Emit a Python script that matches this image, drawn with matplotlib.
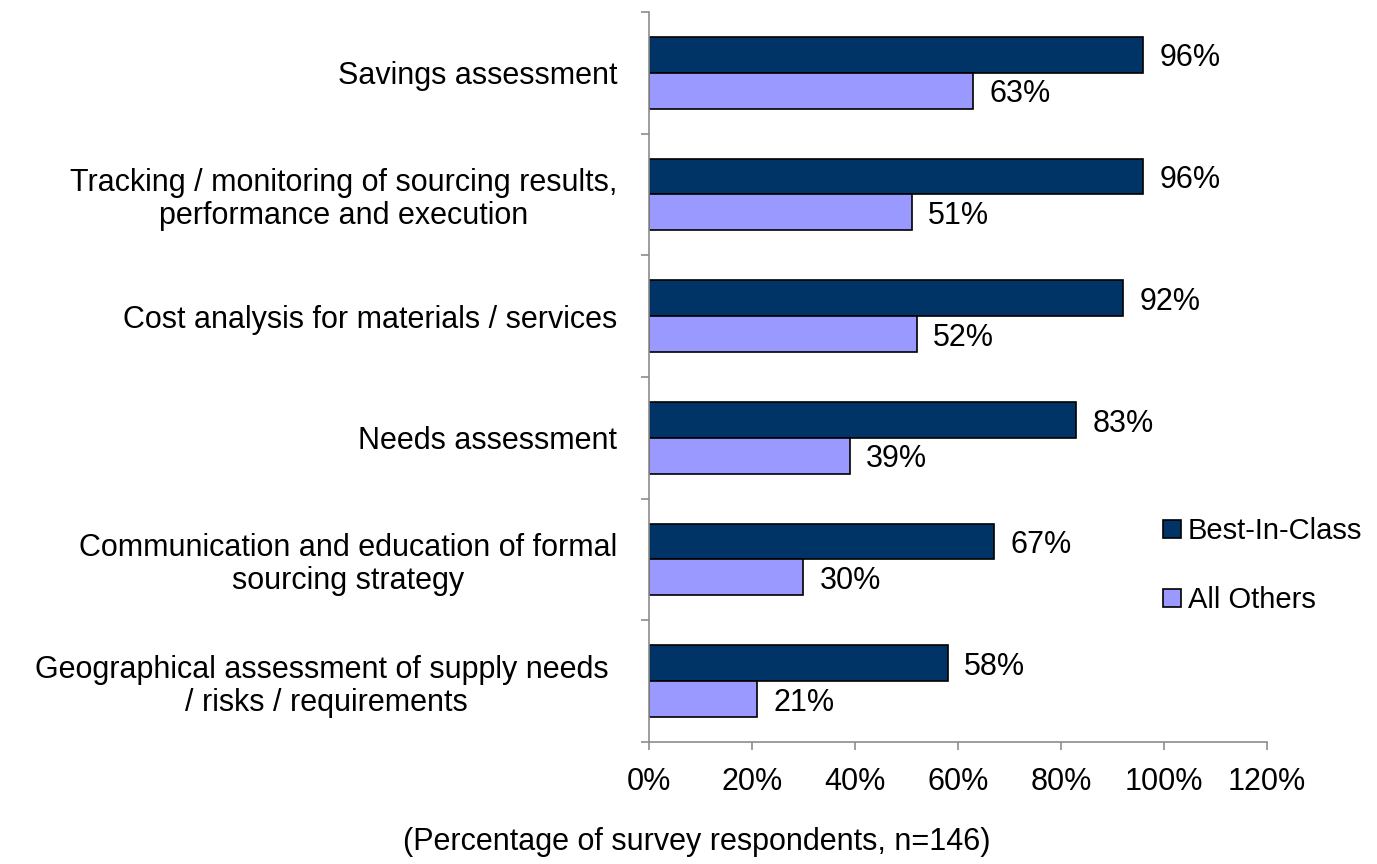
import numpy as np
import matplotlib.pyplot as plt

plt.rcParams["font.family"] = ["Liberation Sans", "DejaVu Sans"]

categories = [
    "Savings assessment",
    "Tracking / monitoring of sourcing results,\nperformance and execution",
    "Cost analysis for materials / services",
    "Needs assessment",
    "Communication and education of formal\nsourcing strategy",
    "Geographical assessment of supply needs \n/ risks / requirements",
]
best_in_class = [96, 96, 92, 83, 67, 58]
all_others = [63, 51, 52, 39, 30, 21]
series_names = ["Best-In-Class", "All Others"]
xtick_values = [0, 20, 40, 60, 80, 100, 120]

BIC_COLOR = "#003366"
AO_COLOR = "#9999FF"
AXIS_COLOR = "#8C8C8C"
FS = 22

fig = plt.figure(figsize=(13.77, 8.64), dpi=100)
ax = fig.add_axes([0.4713, 0.1412, 0.4488, 0.845])

y = np.arange(len(categories))
h = 0.295
bars_bic = ax.barh(y - h / 2, best_in_class, height=h, color=BIC_COLOR,
                   edgecolor="black", linewidth=1.2, label=series_names[0])
bars_ao = ax.barh(y + h / 2, all_others, height=h, color=AO_COLOR,
                  edgecolor="black", linewidth=1.2, label=series_names[1])

for bars, vals in [(bars_bic, best_in_class), (bars_ao, all_others)]:
    for b, v in zip(bars, vals):
        ax.text(v + 3.2, b.get_y() + b.get_height() / 2 + 0.03, f"{v}%",
                va="center", ha="left", fontsize=FS)

ax.set_xlim(0, 120)
ax.set_ylim(len(categories) - 0.5, -0.5)
ax.set_xticks(xtick_values)
ax.set_xticklabels([f"{v}%" for v in xtick_values], fontsize=FS)

ax.set_yticks(y)
ax.set_yticklabels(categories, fontsize=FS, multialignment="center",
                   linespacing=1.15)
ax.set_yticks(np.arange(len(categories) + 1) - 0.5, minor=True)
ax.tick_params(axis="y", which="major", length=0, pad=23)
ax.tick_params(axis="y", which="minor", length=6, color=AXIS_COLOR, width=1.2)
ax.tick_params(axis="x", length=6, color=AXIS_COLOR, width=1.2, pad=12)

for side in ["top", "right"]:
    ax.spines[side].set_visible(False)
for side in ["left", "bottom"]:
    ax.spines[side].set_color(AXIS_COLOR)
    ax.spines[side].set_linewidth(1.2)

fig.legend(loc="center left", bbox_to_anchor=(0.8257, 0.345), frameon=False,
           fontsize=21, handlelength=0.6, handleheight=0.6, handletextpad=0.25,
           labelspacing=1.41)

fig.text(0.506, 0.025, "(Percentage of survey respondents, n=146)",
         ha="center", va="center", fontsize=FS)

fig.savefig("out.png", dpi=100)
